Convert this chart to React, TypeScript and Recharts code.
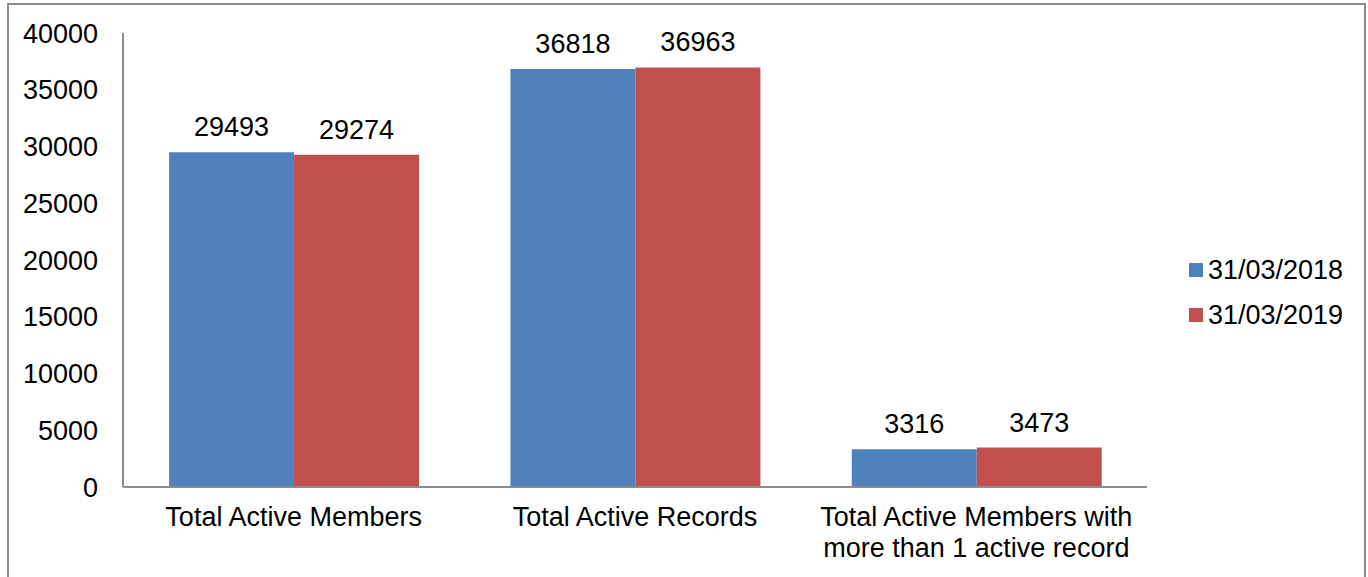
import { BarChart, Bar, XAxis, YAxis, LabelList } from 'recharts';

const categories = [
  'Total Active Members',
  'Total Active Records',
  'Total Active Members with\nmore than 1 active record',
];
const series2018 = [29493, 36818, 3316];
const series2019 = [29274, 36963, 3473];
const yTicks = [0, 5000, 10000, 15000, 20000, 25000, 30000, 35000, 40000];

const seriesMeta = [
  { key: 'd2018', name: '31/03/2018', color: '#4F81BD' },
  { key: 'd2019', name: '31/03/2019', color: '#C0504D' },
];

const data = categories.map((name, i) => ({
  name,
  d2018: series2018[i],
  d2019: series2019[i],
}));

const FONT = '"Liberation Sans", Arial, sans-serif';
const FS = 27;

function CategoryTick({ x, y, payload }: any) {
  const lines = String(payload.value).split('\n');
  return (
    <text x={x} y={y} textAnchor="middle" fontSize={FS} fill="#000" fontFamily={FONT}>
      {lines.map((line, i) => (
        <tspan key={i} x={x} dy={i === 0 ? 19 : 31}>
          {line}
        </tspan>
      ))}
    </text>
  );
}

export default function App() {
  return (
    <div
      style={{
        position: 'absolute',
        left: 0,
        top: 0,
        width: 1368,
        height: 577,
        overflow: 'hidden',
        background: '#fff',
        fontFamily: FONT,
      }}
    >
      <div
        style={{
          position: 'absolute',
          left: 7,
          top: 3,
          width: 1355,
          height: 620,
          border: '2px solid #8c8c8c',
        }}
      />
      <BarChart
        width={1368}
        height={577}
        data={data}
        margin={{ top: 33, right: 221, left: 23, bottom: 0 }}
        barCategoryGap="13.5%"
        barGap={0}
        style={{ position: 'absolute', left: 0, top: 0 }}
      >
        <XAxis
          dataKey="name"
          height={90}
          axisLine={{ stroke: '#8c8c8c', strokeWidth: 2 }}
          tickLine={false}
          tickSize={0}
          tickMargin={20}
          interval={0}
          tick={<CategoryTick />}
        />
        <YAxis
          width={100}
          domain={[0, 40000]}
          ticks={yTicks}
          interval={0}
          axisLine={{ stroke: '#8c8c8c', strokeWidth: 2 }}
          tickLine={false}
          tickSize={0}
          tickMargin={25}
          tick={{ fontSize: FS, fill: '#000', fontFamily: FONT }}
        />
        {seriesMeta.map((s) => (
          <Bar key={s.key} dataKey={s.key} name={s.name} fill={s.color} isAnimationActive={false}>
            <LabelList
              dataKey={s.key}
              position="top"
              offset={16}
              fill="#000"
              fontSize={FS}
              fontFamily={FONT}
            />
          </Bar>
        ))}
      </BarChart>
      <div style={{ position: 'absolute', left: 1189, top: 253 }}>
        {seriesMeta.map((s) => (
          <div
            key={s.key}
            style={{ display: 'flex', alignItems: 'center', height: 34, marginBottom: 11, fontSize: FS, color: '#000' }}
          >
            <span style={{ width: 14, height: 14, background: s.color, marginRight: 5, display: 'inline-block' }} />
            <span>{s.name}</span>
          </div>
        ))}
      </div>
    </div>
  );
}
